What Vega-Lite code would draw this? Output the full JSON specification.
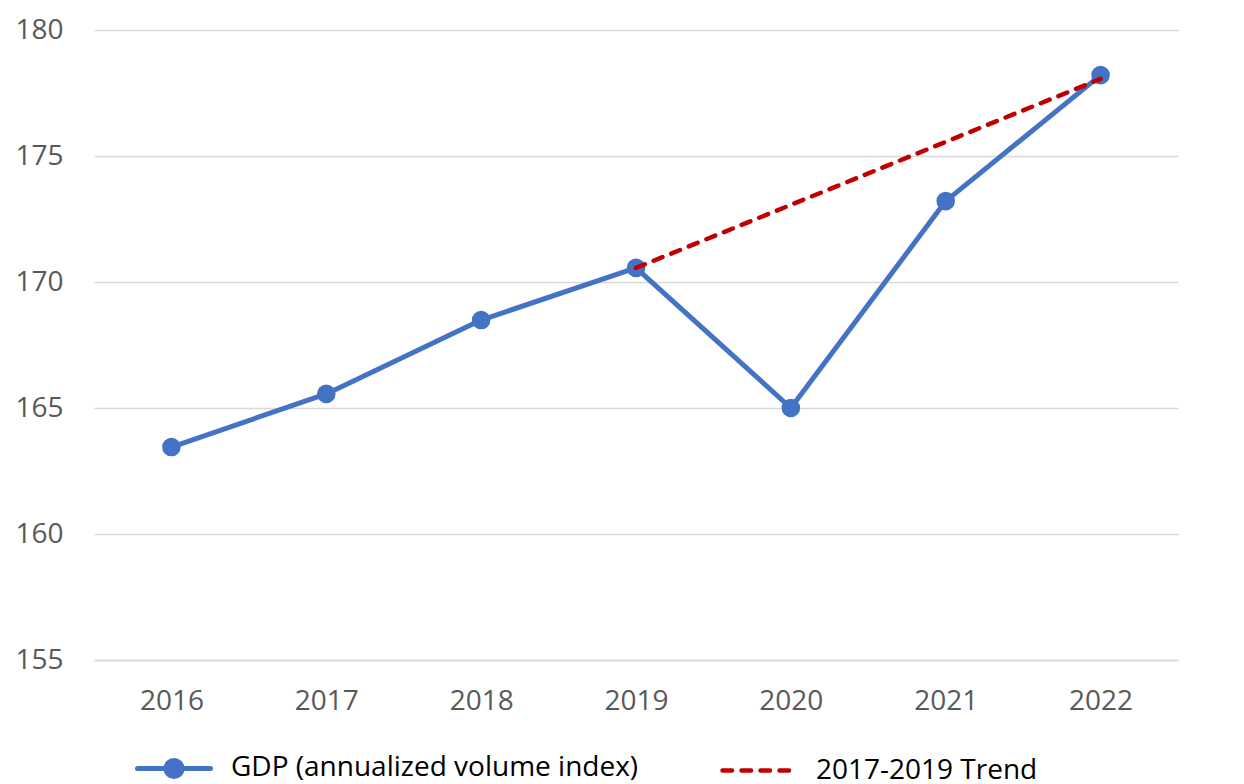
{
  "$schema": "https://vega.github.io/schema/vega-lite/v6.json",
  "width": 1084,
  "height": 630,
  "autosize": {"type": "none"},
  "padding": {"left": 94, "top": 30, "right": 66, "bottom": 124},
  "background": "#ffffff",
  "config": {
    "view": {"stroke": null},
    "font": "Open Sans"
  },
  "data": {
    "values": [
      {"year": "2016", "value": 163.45, "series": "GDP (annualized volume index)"},
      {"year": "2017", "value": 165.56, "series": "GDP (annualized volume index)"},
      {"year": "2018", "value": 168.49, "series": "GDP (annualized volume index)"},
      {"year": "2019", "value": 170.56, "series": "GDP (annualized volume index)"},
      {"year": "2020", "value": 165.0, "series": "GDP (annualized volume index)"},
      {"year": "2021", "value": 173.21, "series": "GDP (annualized volume index)"},
      {"year": "2022", "value": 178.21, "series": "GDP (annualized volume index)"},
      {"year": "2019", "value": 170.56, "series": "2017-2019 Trend"},
      {"year": "2020", "value": 173.06, "series": "2017-2019 Trend"},
      {"year": "2021", "value": 175.56, "series": "2017-2019 Trend"},
      {"year": "2022", "value": 178.06, "series": "2017-2019 Trend"}
    ]
  },
  "encoding": {
    "x": {
      "field": "year",
      "type": "ordinal",
      "scale": {"type": "point", "padding": 0.5},
      "axis": {
        "title": null,
        "labelAngle": 0,
        "labelFont": "Open Sans",
        "labelFontSize": 28,
        "labelColor": "#595959",
        "labelPadding": 27,
        "ticks": false,
        "domain": true,
        "domainColor": "#D9D9D9",
        "domainWidth": 1.3,
        "grid": false
      }
    },
    "y": {
      "field": "value",
      "type": "quantitative",
      "scale": {"domain": [155, 180], "zero": false, "nice": false},
      "axis": {
        "title": null,
        "values": [155, 160, 165, 170, 175, 180],
        "labelFont": "Open Sans",
        "labelFontSize": 28,
        "labelColor": "#595959",
        "labelPadding": 31,
        "ticks": false,
        "domain": false,
        "grid": true,
        "gridColor": "#D9D9D9",
        "gridWidth": 1.3
      }
    }
  },
  "layer": [
    {
      "transform": [{"filter": "datum.series === 'GDP (annualized volume index)'"}],
      "mark": {"type": "line", "strokeWidth": 5, "strokeJoin": "round", "strokeCap": "round"},
      "encoding": {
        "color": {
          "field": "series",
          "type": "nominal",
          "scale": {
            "domain": ["GDP (annualized volume index)", "2017-2019 Trend"],
            "range": ["#4472C4", "#C00000"]
          },
          "legend": {
            "orient": "none",
            "legendX": 66,
            "legendY": 724,
            "direction": "horizontal",
            "title": null,
            "padding": 0,
            "symbolSize": 5329,
            "symbolStrokeWidth": 5,
            "labelFont": "Open Sans",
            "labelFontSize": 28,
            "labelColor": "#000000",
            "labelOffset": 43,
            "labelLimit": 0,
            "columnPadding": 74,
            "encode": {
              "symbols": {
                "update": {
                  "shape": {"signal": "datum.value === 'GDP (annualized volume index)' ? 'M-1,0L1,0M-0.22,0A0.22,0.22 0 1,0 0.22,0A0.22,0.22 0 1,0 -0.22,0Z' : 'M-1,0L1,0'"},
                  "fill": {"signal": "datum.value === 'GDP (annualized volume index)' ? '#4472C4' : 'transparent'"},
                  "strokeDash": {"signal": "datum.value === 'GDP (annualized volume index)' ? [] : [9.5, 9.5]"},
                  "strokeCap": {"value": "round"},
                  "strokeWidth": {"signal": "datum.value === 'GDP (annualized volume index)' ? 5 : 4.5"}
                }
              }
            }
          }
        }
      }
    },
    {
      "transform": [{"filter": "datum.series === 'GDP (annualized volume index)'"}],
      "mark": {"type": "point", "filled": true, "size": 346, "opacity": 1, "color": "#4472C4"}
    },
    {
      "transform": [{"filter": "datum.series === '2017-2019 Trend'"}],
      "mark": {"type": "line", "strokeWidth": 4.5, "strokeCap": "round", "strokeDash": [9.5, 9.5]},
      "encoding": {
        "color": {"field": "series", "type": "nominal"}
      }
    }
  ]
}
